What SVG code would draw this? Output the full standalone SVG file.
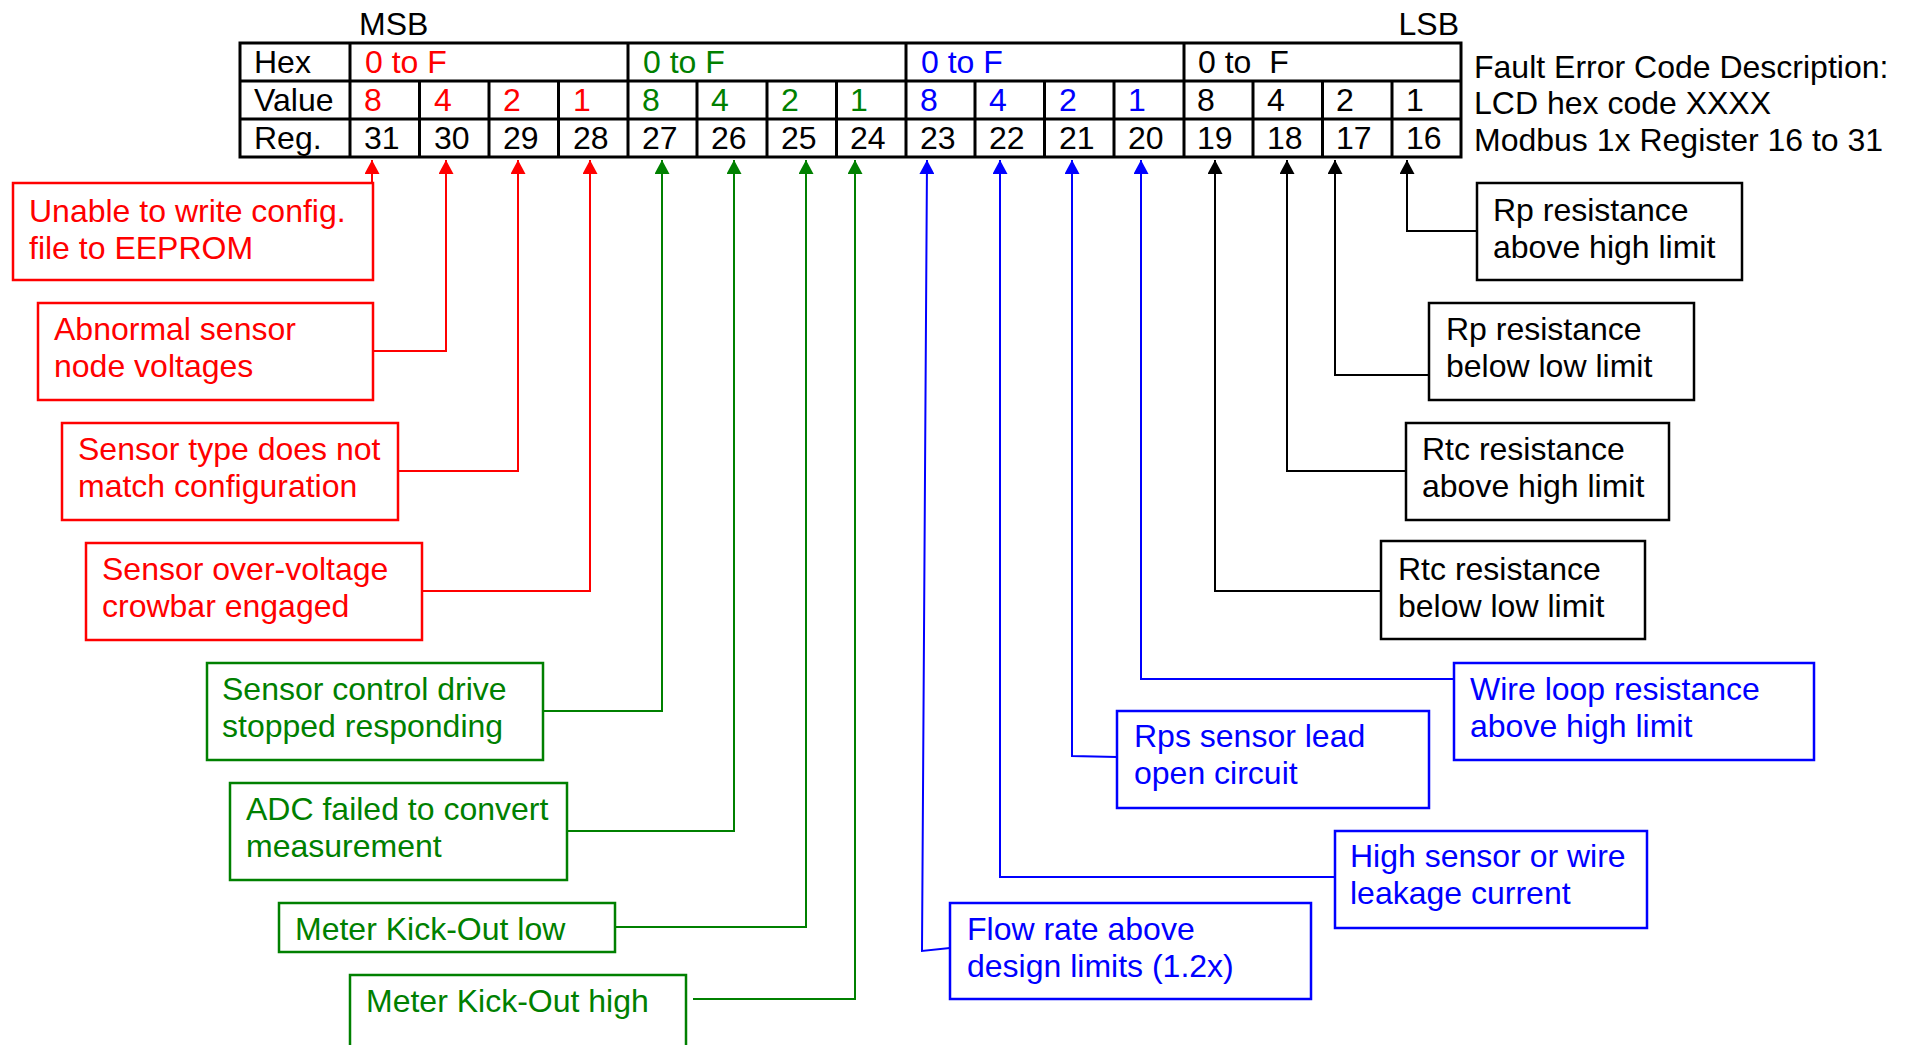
<svg xmlns="http://www.w3.org/2000/svg" width="1912" height="1045" viewBox="0 0 1912 1045">
<style>
text{font-family:"Liberation Sans",Arial,sans-serif;font-size:32px}
.r{fill:#FF0000}.g{fill:#008000}.b{fill:#0000FF}.k{fill:#000}
.box{fill:#fff;stroke-width:2.5}
.br{stroke:#FF0000}.bg{stroke:#008000}.bb{stroke:#0000FF}.bk{stroke:#000}
.tl{stroke:#000;stroke-width:3;fill:none}
.c{fill:none;stroke-width:2}
.cr{stroke:#FF0000;marker-end:url(#ar)}.cg{stroke:#008000;marker-end:url(#ag)}
.cb{stroke:#0000FF;marker-end:url(#ab)}.ck{stroke:#000;marker-end:url(#ak)}
</style>
<defs>
<marker id="ar" viewBox="0 0 14 15" refX="14" refY="7.5" markerWidth="14" markerHeight="15" markerUnits="userSpaceOnUse" orient="auto"><path d="M0,0 L14,7.5 L0,15 z" fill="#FF0000"/></marker>
<marker id="ag" viewBox="0 0 14 15" refX="14" refY="7.5" markerWidth="14" markerHeight="15" markerUnits="userSpaceOnUse" orient="auto"><path d="M0,0 L14,7.5 L0,15 z" fill="#008000"/></marker>
<marker id="ab" viewBox="0 0 14 15" refX="14" refY="7.5" markerWidth="14" markerHeight="15" markerUnits="userSpaceOnUse" orient="auto"><path d="M0,0 L14,7.5 L0,15 z" fill="#0000FF"/></marker>
<marker id="ak" viewBox="0 0 14 15" refX="14" refY="7.5" markerWidth="14" markerHeight="15" markerUnits="userSpaceOnUse" orient="auto"><path d="M0,0 L14,7.5 L0,15 z" fill="#000"/></marker>
</defs>

<g id="table">
<rect class="tl" x="240" y="43" width="1221" height="114"/>
<path class="tl" d="M240,81 H1461 M240,119 H1461 M350,43 V157 M628,43 V157 M906,43 V157 M1184,43 V157 M419.5,81 V157 M489,81 V157 M558.5,81 V157 M697,81 V157 M767,81 V157 M836.5,81 V157 M975,81 V157 M1044.5,81 V157 M1114,81 V157 M1253,81 V157 M1322.5,81 V157 M1392,81 V157"/>
<text class="k" x="359" y="35">MSB</text>
<text class="k" x="1459" y="35" text-anchor="end">LSB</text>
<text class="k" x="254" y="73">Hex</text>
<text class="k" x="254" y="111">Value</text>
<text class="k" x="254" y="149">Reg.</text>
<text class="r" x="365" y="73">0 to F</text>
<text class="g" x="643" y="73">0 to F</text>
<text class="b" x="921" y="73">0 to F</text>
<text class="k" x="1198" y="73" xml:space="preserve">0 to  F</text>
<text class="r" y="111"><tspan x="364">8</tspan><tspan x="434">4</tspan><tspan x="503">2</tspan><tspan x="573">1</tspan></text>
<text class="g" y="111"><tspan x="642">8</tspan><tspan x="711">4</tspan><tspan x="781">2</tspan><tspan x="850">1</tspan></text>
<text class="b" y="111"><tspan x="920">8</tspan><tspan x="989">4</tspan><tspan x="1059">2</tspan><tspan x="1128">1</tspan></text>
<text class="k" y="111"><tspan x="1197">8</tspan><tspan x="1267">4</tspan><tspan x="1336">2</tspan><tspan x="1406">1</tspan></text>
<text class="k" y="149"><tspan x="364">31</tspan><tspan x="434">30</tspan><tspan x="503">29</tspan><tspan x="573">28</tspan><tspan x="642">27</tspan><tspan x="711">26</tspan><tspan x="781">25</tspan><tspan x="850">24</tspan><tspan x="920">23</tspan><tspan x="989">22</tspan><tspan x="1059">21</tspan><tspan x="1128">20</tspan><tspan x="1197">19</tspan><tspan x="1267">18</tspan><tspan x="1336">17</tspan><tspan x="1406">16</tspan></text>
</g>

<g id="description">
<text class="k" x="1474" y="78">Fault Error Code Description:</text>
<text class="k" x="1474" y="114">LCD hex code XXXX</text>
<text class="k" x="1474" y="151">Modbus 1x Register 16 to 31</text>
</g>

<g id="connectors">
<path class="c cr" d="M372,183 V160"/>
<path class="c cr" d="M373,351 H446 V160"/>
<path class="c cr" d="M398,471 H518 V160"/>
<path class="c cr" d="M422,591 H590 V160"/>
<path class="c cg" d="M543,711 H662 V160"/>
<path class="c cg" d="M567,831 H734 V160"/>
<path class="c cg" d="M615,927 H806 V160"/>
<path class="c cg" d="M693,999 H855 V160"/>
<path class="c cb" d="M950,948 L922,951 L927,160"/>
<path class="c cb" d="M1335,877 H1000 V160"/>
<path class="c cb" d="M1117,757 L1072,756 V160"/>
<path class="c cb" d="M1454,679 H1141 V160"/>
<path class="c ck" d="M1381,591 H1215 V160"/>
<path class="c ck" d="M1406,471 H1287 V160"/>
<path class="c ck" d="M1429,375 H1335 V160"/>
<path class="c ck" d="M1477,231 H1407 V160"/>
</g>

<g id="n31"><rect class="box br" x="13" y="183" width="360" height="97"/><text class="r" x="29" y="222">Unable to write config.</text><text class="r" x="29" y="259">file to EEPROM</text></g>
<g id="n30"><rect class="box br" x="38" y="303" width="335" height="97"/><text class="r" x="54" y="340">Abnormal sensor</text><text class="r" x="54" y="377">node voltages</text></g>
<g id="n29"><rect class="box br" x="62" y="423" width="336" height="97"/><text class="r" x="78" y="460">Sensor type does not</text><text class="r" x="78" y="497">match configuration</text></g>
<g id="n28"><rect class="box br" x="86" y="543" width="336" height="97"/><text class="r" x="102" y="580">Sensor over-voltage</text><text class="r" x="102" y="617">crowbar engaged</text></g>

<g id="n27"><rect class="box bg" x="207" y="663" width="336" height="97"/><text class="g" x="222" y="700">Sensor control drive</text><text class="g" x="222" y="737">stopped responding</text></g>
<g id="n26"><rect class="box bg" x="230" y="783" width="337" height="97"/><text class="g" x="246" y="820">ADC failed to convert</text><text class="g" x="246" y="857">measurement</text></g>
<g id="n25"><rect class="box bg" x="279" y="903" width="336" height="49"/><text class="g" x="295" y="940">Meter Kick-Out low</text></g>
<g id="n24"><rect class="box bg" x="350" y="975" width="336" height="97"/><text class="g" x="366" y="1012">Meter Kick-Out high</text></g>

<g id="n23"><rect class="box bb" x="950" y="903" width="361" height="96"/><text class="b" x="967" y="940">Flow rate above</text><text class="b" x="967" y="977">design limits (1.2x)</text></g>
<g id="n22"><rect class="box bb" x="1335" y="831" width="312" height="97"/><text class="b" x="1350" y="867">High sensor or wire</text><text class="b" x="1350" y="904">leakage current</text></g>
<g id="n21"><rect class="box bb" x="1117" y="711" width="312" height="97"/><text class="b" x="1134" y="747">Rps sensor lead</text><text class="b" x="1134" y="784">open circuit</text></g>
<g id="n20"><rect class="box bb" x="1454" y="663" width="360" height="97"/><text class="b" x="1470" y="700">Wire loop resistance</text><text class="b" x="1470" y="737">above high limit</text></g>

<g id="n19"><rect class="box bk" x="1381" y="541" width="264" height="98"/><text class="k" x="1398" y="580">Rtc resistance</text><text class="k" x="1398" y="617">below low limit</text></g>
<g id="n18"><rect class="box bk" x="1406" y="423" width="263" height="97"/><text class="k" x="1422" y="460">Rtc resistance</text><text class="k" x="1422" y="497">above high limit</text></g>
<g id="n17"><rect class="box bk" x="1429" y="303" width="265" height="97"/><text class="k" x="1446" y="340">Rp resistance</text><text class="k" x="1446" y="377">below low limit</text></g>
<g id="n16"><rect class="box bk" x="1477" y="183" width="265" height="97"/><text class="k" x="1493" y="221">Rp resistance</text><text class="k" x="1493" y="258">above high limit</text></g>
</svg>
